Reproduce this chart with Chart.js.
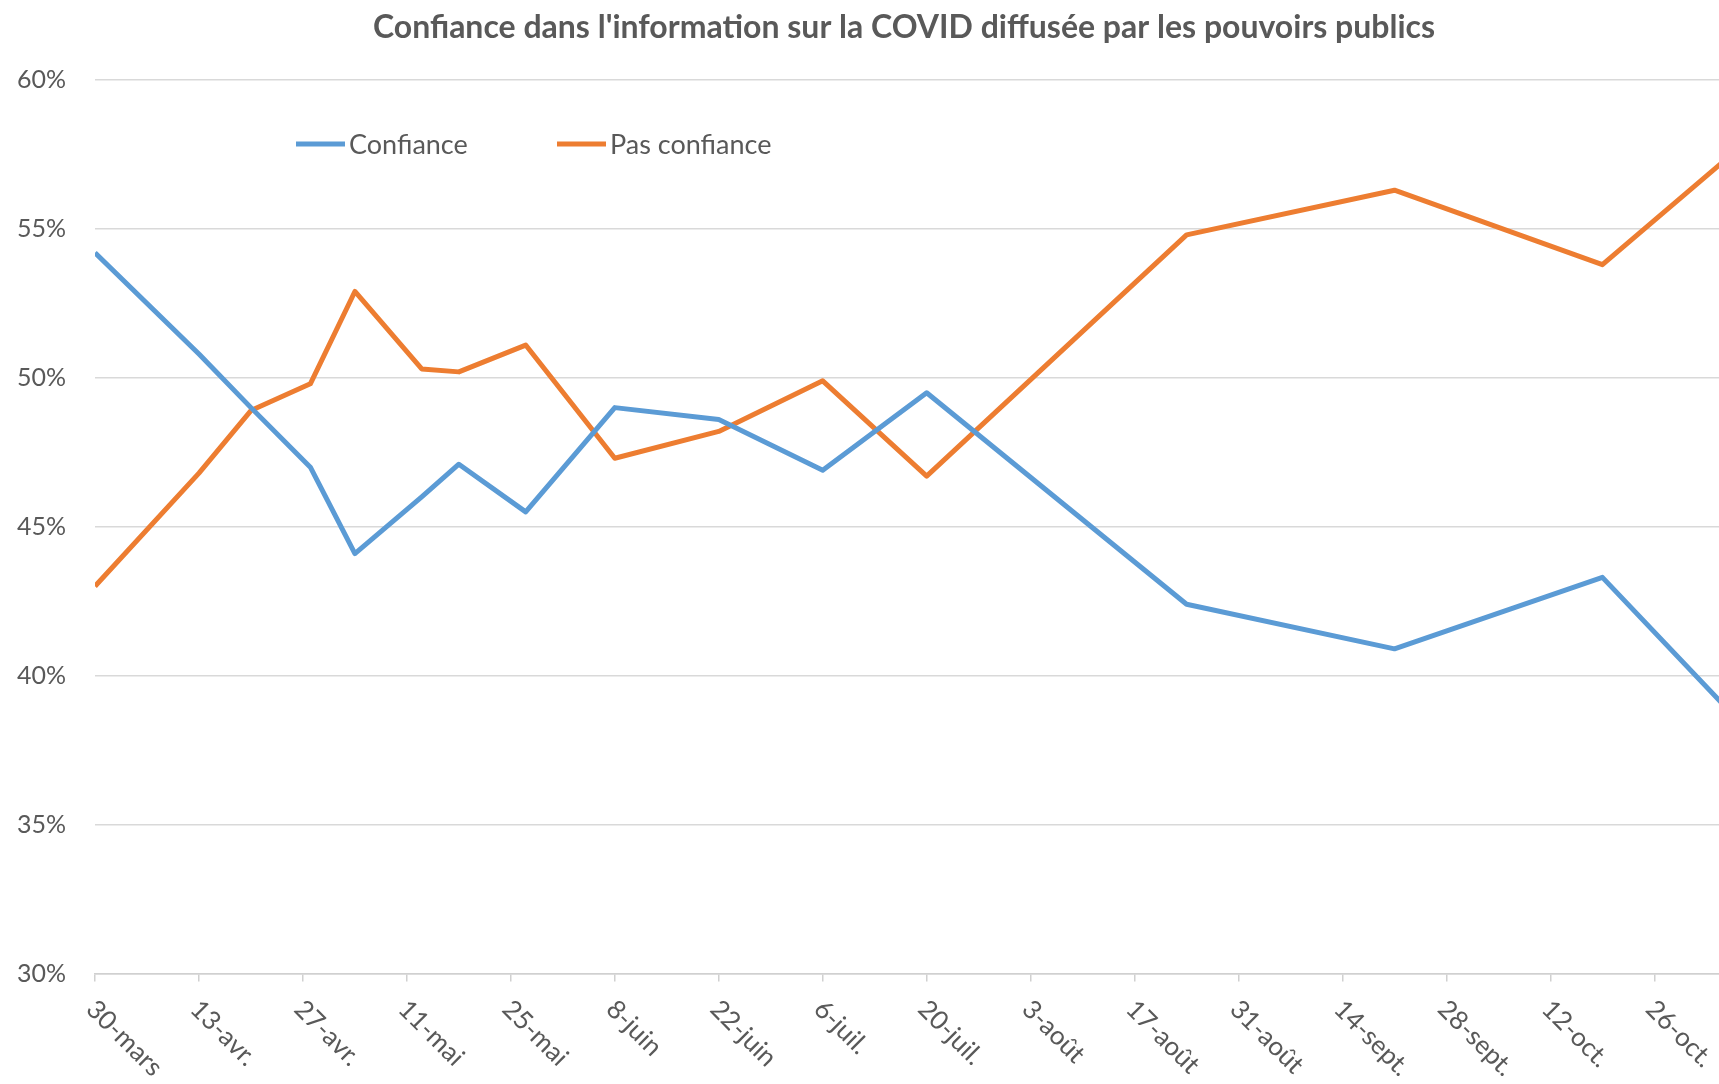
<!DOCTYPE html>
<html lang="fr">
<head>
<meta charset="utf-8">
<title>Confiance dans l'information sur la COVID</title>
<script src="https://cdn.jsdelivr.net/npm/chart.js@4.4.1/dist/chart.umd.min.js"></script>
<style>
  html, body { margin: 0; padding: 0; background: #fff; }
  canvas { display: block; }
</style>
</head>
<body>
<canvas id="trustChart" width="1719" height="1084"></canvas>
<script>
const titleText = "Confiance dans l'information sur la COVID diffusée par les pouvoirs publics";

// survey waves, counted in days after 30 March
const surveyDays = [0, 14, 21, 29, 35, 44, 49, 58, 70, 84, 98, 112, 147, 175, 203, 219];
const confiance = [54.2, 50.8, 49.0, 47.0, 44.1, 46.0, 47.1, 45.5, 49.0, 48.6, 46.9, 49.5, 42.4, 40.9, 43.3, 39.1];
const pasConfiance = [43.0, 46.8, 48.9, 49.8, 52.9, 50.3, 50.2, 51.1, 47.3, 48.2, 49.9, 46.7, 54.8, 56.3, 53.8, 57.2];

// x axis: one tick every two weeks
const tickDays = [0, 14, 28, 42, 56, 70, 84, 98, 112, 126, 140, 154, 168, 182, 196, 210];
const tickLabels = ['30-mars', '13-avr.', '27-avr.', '11-mai', '25-mai', '8-juin', '22-juin', '6-juil.',
  '20-juil.', '3-août', '17-août', '31-août', '14-sept.', '28-sept.', '12-oct.', '26-oct.'];

const textGrey = '#595959';
Chart.defaults.font.family = 'Lato';

/* -----------------------------
   Title, slanted date labels, legend
------------------------------ */
const excelBits = {
  id: 'excelBits',
  afterDraw(chart) {
    const ctx = chart.ctx;
    const xs = chart.scales.x;
    const area = chart.chartArea;
    ctx.save();
    ctx.fillStyle = textGrey;

    ctx.font = 'bold 32px Lato';
    ctx.textAlign = 'center';
    ctx.textBaseline = 'middle';
    ctx.fillText(titleText, 904, 28);

    ctx.font = '26px Lato';
    ctx.textAlign = 'left';
    ctx.textBaseline = 'top';
    xs.ticks.forEach((t, i) => {
      const px = xs.getPixelForValue(t.value);
      ctx.save();
      ctx.translate(px + 5, area.bottom + 22);
      ctx.rotate(Math.PI / 4);
      ctx.fillText(tickLabels[i], 0, 0);
      ctx.restore();
    });

    // legend inside the plot
    const legendX = [296, 557];
    ctx.font = '27px Lato';
    ctx.textBaseline = 'middle';
    chart.data.datasets.forEach((ds, i) => {
      ctx.strokeStyle = ds.borderColor;
      ctx.lineWidth = 5;
      ctx.beginPath();
      ctx.moveTo(legendX[i], 144);
      ctx.lineTo(legendX[i] + 49, 144);
      ctx.stroke();
      ctx.fillText(ds.label, legendX[i] + 53, 145);
    });
    ctx.restore();
  }
};

new Chart(document.getElementById('trustChart'), {
  type: 'line',
  data: {
    datasets: [
      {
        label: 'Confiance',
        data: surveyDays.map((d, i) => ({ x: d, y: confiance[i] })),
        borderColor: '#5B9BD5',
        borderWidth: 5,
        pointRadius: 0,
        tension: 0,
        borderJoinStyle: 'round'
      },
      {
        label: 'Pas confiance',
        data: surveyDays.map((d, i) => ({ x: d, y: pasConfiance[i] })),
        borderColor: '#ED7D31',
        borderWidth: 5,
        pointRadius: 0,
        tension: 0,
        borderJoinStyle: 'round'
      }
    ]
  },
  options: {
    responsive: false,
    animation: false,
    layout: { padding: { top: 80, right: 0, left: 0, bottom: 0 } },
    plugins: {
      legend: { display: false },
      tooltip: { enabled: false }
    },
    scales: {
      x: {
        type: 'linear',
        min: 0,
        max: 218.7,
        afterBuildTicks: s => { s.ticks = tickDays.map(v => ({ value: v })); },
        afterFit: s => { s.height = 110.5; },
        ticks: { display: false },
        grid: { drawOnChartArea: false, drawTicks: true, tickLength: 8, color: '#d0d0d0', lineWidth: 1.5 },
        border: { display: true, color: '#d0d0d0', width: 1.5 }
      },
      y: {
        min: 30,
        max: 60,
        afterFit: s => { s.width = 95; },
        ticks: {
          stepSize: 5,
          padding: 29,
          color: textGrey,
          font: { size: 25 },
          callback: v => v + '%'
        },
        grid: { color: '#d9d9d9', lineWidth: 1.5, drawTicks: false },
        border: { display: false }
      }
    }
  },
  plugins: [excelBits]
});
</script>
</body>
</html>
